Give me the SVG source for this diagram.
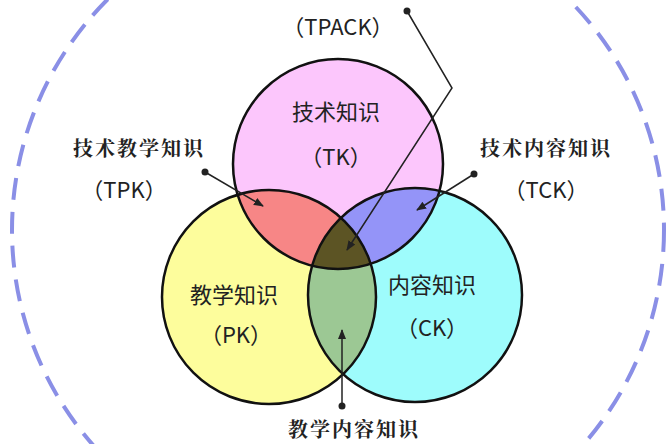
<svg xmlns="http://www.w3.org/2000/svg" width="672" height="444" viewBox="0 0 672 444">
<style>
.t{font-family:"Noto Sans CJK SC","Liberation Sans",sans-serif;font-size:22px;fill:#222;text-anchor:middle}
.b{font-family:"Noto Serif CJK SC","Noto Sans CJK SC",serif;font-size:20px;font-weight:bold;fill:#222;text-anchor:middle;letter-spacing:2px}
.o{fill:none;stroke:#111;stroke-width:2.5}
.c{stroke:#222;stroke-width:1.5;fill:none}
</style>
<defs>
<clipPath id="cT"><circle cx="338" cy="164" r="105"/></clipPath>
<clipPath id="cP"><circle cx="269" cy="297" r="107"/></clipPath>
<marker id="ar" markerWidth="10" markerHeight="10" refX="9" refY="5" orient="auto" markerUnits="userSpaceOnUse"><path d="M0,1 L10,5 L0,9 Z" fill="#222"/></marker>
</defs>
<rect width="672" height="444" fill="#fff"/>
<circle cx="338" cy="230" r="326" fill="none" stroke="#8a8fe6" stroke-width="4" stroke-dasharray="22 12"/>
<g id="TK"><circle cx="338" cy="164" r="105" fill="#fcc6fc"/></g>
<g id="PK"><circle cx="269" cy="297" r="107" fill="#fdfd9c"/></g>
<g id="CK"><circle cx="415" cy="295" r="107" fill="#9efcfc"/></g>
<g id="TPK"><circle cx="269" cy="297" r="107" fill="#f78686" clip-path="url(#cT)"/></g>
<g id="TCK"><circle cx="415" cy="295" r="107" fill="#9494f8" clip-path="url(#cT)"/></g>
<g id="PCK"><circle cx="415" cy="295" r="107" fill="#9cc894" clip-path="url(#cP)"/></g>
<g id="TPACK" clip-path="url(#cT)"><circle cx="415" cy="295" r="107" fill="#5c5424" clip-path="url(#cP)"/></g>
<g id="outlines">
<circle class="o" cx="338" cy="164" r="105"/>
<circle class="o" cx="269" cy="297" r="107"/>
<circle class="o" cx="415" cy="295" r="107"/>
</g>
<g id="connectors">
<circle cx="407" cy="11" r="3.5" fill="#222"/>
<polyline class="c" points="407,11 452,88 347,250" marker-end="url(#ar)"/>
<circle cx="205" cy="172" r="3.5" fill="#222"/>
<line class="c" x1="205" y1="172" x2="263" y2="206" marker-end="url(#ar)"/>
<circle cx="474" cy="174" r="3.5" fill="#222"/>
<line class="c" x1="474" y1="174" x2="417" y2="210" marker-end="url(#ar)"/>
<circle cx="342" cy="406" r="3.5" fill="#222"/>
<line class="c" x1="342" y1="406" x2="342" y2="330" marker-end="url(#ar)"/>
</g>
<g id="labels">
<text class="t" x="338" y="35">（TPACK）</text>
<text class="t" x="336" y="120">技术知识</text>
<text class="t" x="336" y="165">（TK）</text>
<text class="b" x="139" y="156">技术教学知识</text>
<text class="t" x="124" y="198">（TPK）</text>
<text class="b" x="546" y="156">技术内容知识</text>
<text class="t" x="546" y="198">（TCK）</text>
<text class="t" x="234" y="303">教学知识</text>
<text class="t" x="236" y="343">（PK）</text>
<text class="t" x="432" y="293">内容知识</text>
<text class="t" x="432" y="336">（CK）</text>
<text class="b" x="354" y="437">教学内容知识</text>
</g>
</svg>
